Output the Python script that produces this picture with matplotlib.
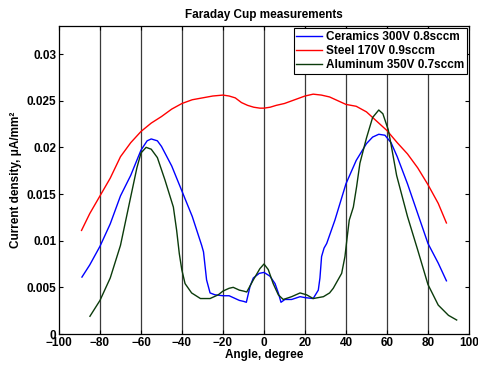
import matplotlib
matplotlib.use("Agg")
import matplotlib.pyplot as plt

# angle (deg) and current density (uA/mm^2)
steel_x = [-89, -85, -80, -75, -70, -65, -60, -55, -50, -45, -40, -35, -30, -25,
           -20, -17, -14, -11, -8, -5, -2, 0, 3, 6, 10, 15, 20, 24, 28, 32, 36,
           40, 45, 50, 55, 60, 65, 70, 75, 80, 85, 89]
steel_y = [0.0111, 0.0129, 0.0148, 0.0167, 0.0190, 0.0205, 0.0217, 0.0226, 0.0233,
           0.0241, 0.0247, 0.0251, 0.0253, 0.0255, 0.0256, 0.0255, 0.0253, 0.0248,
           0.0245, 0.0243, 0.0242, 0.0242, 0.0243, 0.0245, 0.0247, 0.0251, 0.0255,
           0.0257, 0.0256, 0.0254, 0.0250, 0.0246, 0.0244, 0.0238, 0.0228, 0.0218,
           0.0205, 0.0193, 0.0178, 0.0160, 0.0140, 0.0119]

ceramics_x = [-88.8, -85, -80, -75, -70, -65, -60, -57, -55, -52, -50, -45, -40,
              -35, -30.4, -29.5, -28, -26.3, -23.9, -20, -17, -14, -12, -10, -8.6,
              -6.8, -5.2, -2.3, 0, 2.9, 5.4, 7, 8.3, 10.2, 13.5, 17.6, 20, 24, 26.5,
              27.3, 28.1, 29.3, 30.6, 34.6, 40, 45, 50, 53, 56, 59, 62, 65, 70, 75,
              80, 85, 89]
ceramics_y = [0.0061, 0.0074, 0.0094, 0.0118, 0.0148, 0.0170, 0.0197, 0.0207,
              0.0209, 0.0207, 0.0201, 0.0180, 0.0153, 0.0126, 0.0095, 0.0088,
              0.0058, 0.0044, 0.0042, 0.0041, 0.0041, 0.0038, 0.0036, 0.0035,
              0.0034, 0.0051, 0.0060, 0.0065, 0.0066, 0.0062, 0.0054, 0.0044,
              0.0034, 0.0037, 0.0037, 0.0040, 0.0039, 0.0038, 0.0047, 0.0060,
              0.0083, 0.0092, 0.0097, 0.0122, 0.0161, 0.0186, 0.0204, 0.0211,
              0.0214, 0.0213, 0.0205, 0.0190, 0.0161, 0.0129, 0.0097, 0.0076,
              0.0057]

aluminum_x = [-84.9, -80, -75, -70, -65, -62, -60, -57.5, -55, -52, -48.3, -44.2,
              -42.6, -41.3, -40.1, -38.5, -35.3, -31, -26.3, -22.3, -20, -17, -15,
              -12, -10, -8.4, -5.2, -2, 0, 2.1, 4.5, 7, 9.4, 13.5, 17.6, 20.8, 24,
              29, 32, 33.8, 37.9, 39.5, 40.6, 41.6, 43.6, 45.2, 46.8, 50, 53, 56,
              58, 60.6, 62, 64.7, 70, 75, 80, 85, 90, 94]
aluminum_y = [0.0019, 0.0036, 0.0060, 0.0095, 0.0147, 0.0178, 0.0194, 0.0200,
              0.0198, 0.0189, 0.0165, 0.0136, 0.0111, 0.0086, 0.0069, 0.0054,
              0.0044, 0.0038, 0.0038, 0.0042, 0.0046, 0.0049, 0.0050, 0.0047,
              0.0046, 0.0045, 0.0058, 0.0070, 0.0075, 0.0069, 0.0054, 0.0042,
              0.0037, 0.0040, 0.0044, 0.0042, 0.0038, 0.0040, 0.0044, 0.0049,
              0.0065, 0.0083, 0.0104, 0.0122, 0.0136, 0.0158, 0.0183, 0.0210,
              0.0232, 0.0240, 0.0236, 0.0219, 0.0203, 0.0170, 0.0126, 0.0090,
              0.0053, 0.0031, 0.0020, 0.0015]

x_ticks = [-100, -80, -60, -40, -20, 0, 20, 40, 60, 80, 100]
y_ticks = [0, 0.005, 0.01, 0.015, 0.02, 0.025, 0.03]
y_tick_labels = ["0", "0.005", "0.01", "0.015", "0.02", "0.025", "0.03"]

plt.rcParams["font.family"] = ["Liberation Sans", "DejaVu Sans"]
plt.rcParams["font.weight"] = "bold"
plt.rcParams["font.size"] = 8.5

fig = plt.figure(figsize=(4.78, 3.67), dpi=100)
ax = fig.add_axes([0.1234, 0.0899, 0.8577, 0.8392])

for xv in x_ticks[1:-1]:
    ax.axvline(xv, color="#3a3a3a", linewidth=0.9, zorder=1)

ax.plot(ceramics_x, ceramics_y, color="#0000ff", linewidth=1.0,
        label="Ceramics 300V 0.8sccm", zorder=3)
ax.plot(steel_x, steel_y, color="#ff0000", linewidth=1.0,
        label="Steel 170V 0.9sccm", zorder=3)
ax.plot(aluminum_x, aluminum_y, color="#0b3b0b", linewidth=1.0,
        label="Aluminum 350V 0.7sccm", zorder=3)

ax.set_xlim(-100, 100)
ax.set_ylim(0, 0.033)
ax.set_xticks(x_ticks)
ax.set_yticks(y_ticks)
ax.set_yticklabels(y_tick_labels)
ax.tick_params(direction="in", top=True, right=True, length=3, width=0.8, pad=2)
for s in ax.spines.values():
    s.set_linewidth(0.9)

ax.set_title("Faraday Cup measurements", fontsize=8.5, fontweight="bold", pad=6)
ax.set_xlabel("Angle, degree", fontweight="bold", labelpad=0)
ax.set_ylabel("Current density, μA/mm²", fontweight="bold", labelpad=3)

leg = ax.legend(loc="upper right", bbox_to_anchor=(1.0, 1.0), borderaxespad=0.15,
                fancybox=False, framealpha=1, edgecolor="black",
                handlelength=2.2, handletextpad=0.3, labelspacing=0.2,
                borderpad=0.25, prop={"weight": "bold", "size": 8.5})
leg.get_frame().set_linewidth(0.8)

fig.savefig("out.png", dpi=100)
